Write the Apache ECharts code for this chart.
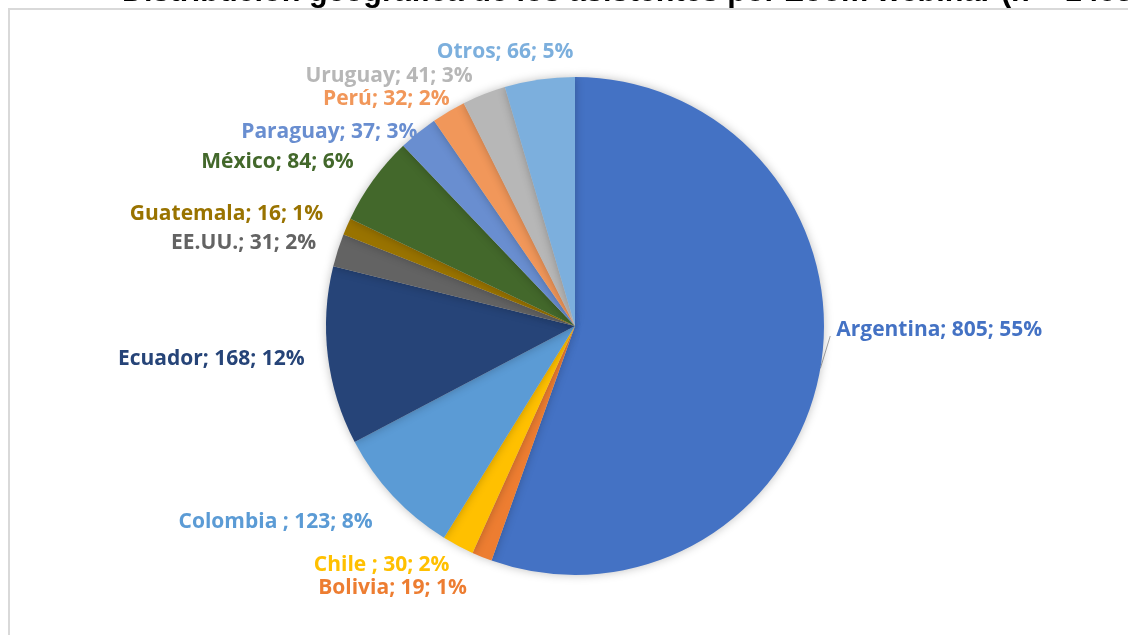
<!DOCTYPE html>
<html>
<head>
<meta charset="utf-8">
<script src="https://cdn.jsdelivr.net/npm/echarts@6/dist/echarts.min.js"></script>
<style>
  html, body { margin: 0; padding: 0; background: #fff; }
  #chart { width: 1128px; height: 635px; }
</style>
</head>
<body>
<div id="chart"></div>
<script>
// datos del gráfico
const countries = ['Argentina', 'Bolivia', 'Chile ', 'Colombia ', 'Ecuador', 'EE.UU.', 'Guatemala', 'México', 'Paraguay', 'Perú', 'Uruguay', 'Otros']
const attendees = [805, 19, 30, 123, 168, 31, 16, 84, 37, 32, 41, 66]
const percents = ['55%', '1%', '2%', '8%', '12%', '2%', '1%', '6%', '3%', '2%', '3%', '5%']
const colors = ['#4472C4', '#ED7D31', '#FFC000', '#5B9BD5', '#264478', '#636363', '#997300', '#43682B', '#698ED0', '#F1975A', '#B7B7B7', '#7CAFDD']

const chartTitle = 'Distribución geográfica de los asistentes por Zoom webinar (n = 1453)'

// pequeños ajustes de las etiquetas (estilo Excel)
const labelNudge = [[-3, -40], [-1, 12], [22, 12], [0, 21], [-9, 2], [-8, -5], [-10, -9], [-7, -13], [27, -9], [32, -19], [17, -19], [46, -20]]

let myChart = echarts.init(document.getElementById('chart'))

let seriesData = countries.map((name, i) => ({
    name: name,
    value: attendees[i],
    itemStyle: { color: colors[i] },
    label: { color: colors[i] },
    labelLine: { show: i === 0 }
}))

myChart.setOption({
    animation: false,
    title: {
        text: chartTitle,
        left: 117,
        top: -28,
        textStyle: {
            fontFamily: 'Liberation Sans',
            fontWeight: 'bold',
            fontSize: 30.6,
            color: '#000'
        }
    },
    graphic: [{
        type: 'rect',
        z: -1,
        shape: { x: 9, y: 9, width: 1200, height: 700 },
        style: { fill: 'none', stroke: '#d9d9d9', lineWidth: 2 }
    }],
    series: [{
        type: 'pie',
        center: [575, 326],
        radius: 249,
        startAngle: 90,
        clockwise: true,
        data: seriesData,
        itemStyle: {
            shadowBlur: 10,
            shadowColor: 'rgba(0,0,0,0.25)'
        },
        label: {
            show: true,
            position: 'outside',
            fontFamily: 'Open Sans',
            fontWeight: 'bold',
            fontSize: 21,
            formatter: p => p.name + '; ' + p.value + '; ' + percents[p.dataIndex]
        },
        labelLine: {
            length: 8,
            length2: 6,
            lineStyle: { color: '#a6a6a6', width: 1 }
        },
        labelLayout: p => {
            let [dx, dy] = labelNudge[p.dataIndex]
            let out = { dx: dx, dy: dy }
            if (p.labelLinePoints) {
                let r = p.labelRect
                let start = p.labelLinePoints[0]
                let end = [r.x + dx - 6, r.y + dy + r.height * 0.8]
                out.labelLinePoints = [start, end, end]
            }
            return out
        }
    }]
})
</script>
</body>
</html>
